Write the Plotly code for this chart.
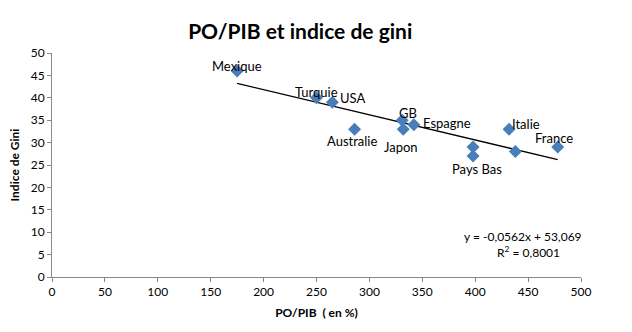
import plotly.graph_objects as go

pays = ["Mexique", "Turquie", "USA", "Australie", "GB", "Japon", "Espagne",
        "Pays Bas", "", "Italie", "", "France"]
po_pib = [175, 250, 265, 286, 331, 332, 342, 398, 398, 432, 438, 478]
gini = [46, 40, 39, 33, 35, 33, 34, 29, 27, 33, 28, 29]
slope = -0.0562
intercept = 53.069
r2 = "0,8001"
x_ticks = list(range(0, 501, 50))
y_ticks = list(range(0, 51, 5))

font = "Lato, 'Open Sans', sans-serif"
blue = "#4a7ebb"

fig = go.Figure()

xr = [min(po_pib), max(po_pib)]
fig.add_trace(go.Scatter(x=xr, y=[slope * v + intercept for v in xr], mode="lines",
                         line=dict(color="black", width=1.3), hoverinfo="skip",
                         showlegend=False))

fig.add_trace(go.Scatter(x=po_pib, y=gini, mode="markers",
                         marker=dict(symbol="diamond", size=10, color=blue),
                         showlegend=False))

# label offsets in pixels (dx right, dy down)
offsets = {
    "Mexique": (0, -5), "Turquie": (0, -6), "USA": (20, -4), "Australie": (-3, 12),
    "GB": (6, -7), "Japon": (-2, 18), "Espagne": (33, -2), "Pays Bas": (4, 22),
    "Italie": (17, -5), "France": (-4, -9),
}
for n, xv, yv in zip(pays, po_pib, gini):
    if n in offsets:
        dx, dy = offsets[n]
        fig.add_annotation(x=xv, y=yv, text=n, showarrow=False, xshift=dx, yshift=-dy,
                           font=dict(size=13, color="black", family=font))

fig.add_annotation(x=1.005, y=0.138, xref="paper", yref="paper", xanchor="right",
                   text=f"y = {str(slope).replace('.', ',')}x + {str(intercept).replace('.', ',')}",
                   showarrow=False, font=dict(size=12, color="black", family=font))
fig.add_annotation(x=0.90, y=0.068, xref="paper", yref="paper", xanchor="center",
                   text=f"R<sup>2</sup> = {r2}",
                   showarrow=False, font=dict(size=12, color="black", family=font))

fig.update_layout(
    width=632, height=332,
    margin=dict(l=52, r=51, t=53, b=55),
    paper_bgcolor="white", plot_bgcolor="white",
    title=dict(text="<b>PO/PIB et indice de gini</b>", x=0.475, xanchor="center",
               y=0.905, yanchor="middle", font=dict(size=21, color="black", family=font)),
    font=dict(family=font, color="black", size=12),
    xaxis=dict(range=[0, 500], tickvals=x_ticks, showgrid=False, zeroline=False,
               showline=True, linecolor="#888", ticks="outside", ticklen=4,
               tickcolor="#888", tickfont=dict(size=12),
               title=dict(text="<b>PO/PIB  ( en %)</b>", font=dict(size=12), standoff=10)),
    yaxis=dict(range=[0, 50], tickvals=y_ticks, showgrid=False, zeroline=False,
               showline=True, linecolor="#888", ticks="outside", ticklen=4,
               tickcolor="#888", tickfont=dict(size=12),
               title=dict(text="<b>Indice de Gini</b>", font=dict(size=12), standoff=8)),
)

fig.write_html("out.html")
